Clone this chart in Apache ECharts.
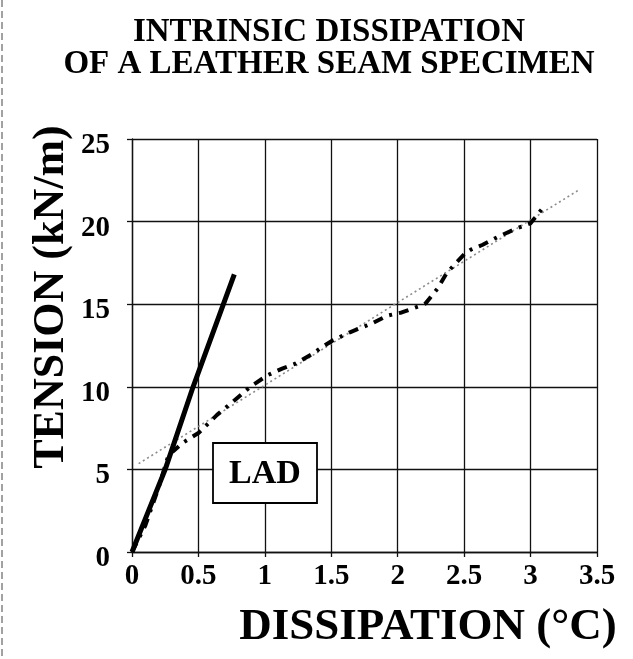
<!DOCTYPE html>
<html>
<head>
<meta charset="utf-8">
<script src="https://cdn.jsdelivr.net/npm/echarts@6/dist/echarts.min.js"></script>
<style>
  html, body { margin: 0; padding: 0; background: #fff; }
  #chart1 { width: 633px; height: 659px; }
</style>
</head>
<body>
<div id="chart1"></div>
<script>
// straight line (solid, thick)
const linearX = [0, 0.25, 0.46, 0.77]
const linearY = [0, 5, 10, 16.8]
// measured values (thick dash-dot)
const measX = [0, 0.1, 0.2, 0.28, 0.31, 0.38, 0.5, 0.64, 0.76, 0.89, 1.02, 1.13, 1.23, 1.36, 1.43, 1.51, 1.64, 1.81, 1.92, 2.03, 2.17, 2.21, 2.30, 2.37, 2.51, 2.55, 2.64, 2.76, 2.90, 3.0, 3.11]
const measY = [0, 1.6, 3.9, 6.0, 6.1, 6.6, 7.2, 8.3, 9.1, 10.0, 10.7, 11.1, 11.4, 12.0, 12.4, 12.8, 13.3, 13.85, 14.3, 14.5, 14.9, 15.05, 15.95, 16.9, 18.1, 18.3, 18.6, 19.1, 19.6, 19.9, 21.0]
// fitted trend (thin dotted)
const fitX = [0.05, 3.36]
const fitY = [5.35, 21.9]
// axis ticks
const xTicks = [0, 0.5, 1, 1.5, 2, 2.5, 3, 3.5]
const yTicks = [0, 5, 10, 15, 20, 25]

const serifBold = 'bold {s}px "Liberation Serif", "DejaVu Serif", serif'
const font = (s) => serifBold.replace('{s}', s)

function pairs (xs, ys) {
    return xs.map((x, i) => [x, ys[i]])
}

const chart1 = echarts.init(document.getElementById('chart1'))
let option = {
    animation: false,
    backgroundColor: '#fff',
    grid: {
        left: 132,
        right: 36,
        top: 139,
        bottom: 107
    },
    xAxis: {
        type: 'value',
        min: xTicks[0],
        max: xTicks[xTicks.length - 1],
        interval: 0.5,
        axisLine: { show: true, lineStyle: { color: '#111', width: 1.3 } },
        axisTick: { show: true, length: 5, lineStyle: { color: '#111', width: 1.3 } },
        axisLabel: {
            color: '#000',
            fontFamily: '"Liberation Serif", serif',
            fontWeight: 'bold',
            fontSize: 29,
            margin: 10
        },
        splitLine: { show: true, lineStyle: { color: '#111', width: 1.3 } }
    },
    yAxis: {
        type: 'value',
        min: yTicks[0],
        max: yTicks[yTicks.length - 1],
        interval: 5,
        axisLine: { show: true, lineStyle: { color: '#111', width: 1.3 } },
        axisTick: { show: true, length: 5, lineStyle: { color: '#111', width: 1.3 } },
        axisLabel: {
            color: '#000',
            fontFamily: '"Liberation Serif", serif',
            fontWeight: 'bold',
            fontSize: 29,
            margin: 22,
            verticalAlign: 'top',
            lineHeight: 13
        },
        splitLine: { show: true, lineStyle: { color: '#111', width: 1.3 } }
    },
    series: [
        {
            name: 'trend',
            type: 'line',
            data: pairs(fitX, fitY),
            symbol: 'none',
            lineStyle: { color: '#8a8a8a', width: 1.6, type: [2, 3] },
            z: 3
        },
        {
            name: 'linear',
            type: 'line',
            data: pairs(linearX, linearY),
            symbol: 'none',
            lineStyle: { color: '#000', width: 5 },
            z: 4
        },
        {
            name: 'measured',
            type: 'line',
            data: pairs(measX, measY),
            symbol: 'none',
            lineStyle: { color: '#000', width: 4, type: [10, 7, 3, 7] },
            z: 5
        }
    ],
    graphic: [
        // scan edge on the left
        {
            type: 'line',
            shape: { x1: 2, y1: 0, x2: 2, y2: 659 },
            style: { stroke: '#444', lineWidth: 1, lineDash: [7, 4] }
        },
        {
            type: 'text',
            x: 329,
            y: 16,
            style: {
                text: 'INTRINSIC DISSIPATION\nOF A LEATHER SEAM SPECIMEN',
                font: font(33),
                lineHeight: 32,
                fill: '#000',
                textAlign: 'center',
                textVerticalAlign: 'top'
            }
        },
        {
            type: 'text',
            x: 52,
            y: 297,
            rotation: Math.PI / 2,
            style: {
                text: 'TENSION (kN/m)',
                font: font(44),
                fill: '#000',
                textAlign: 'center',
                textVerticalAlign: 'middle'
            }
        },
        {
            type: 'text',
            x: 428,
            y: 627,
            style: {
                text: 'DISSIPATION (°C)',
                font: font(45),
                fill: '#000',
                textAlign: 'center',
                textVerticalAlign: 'middle'
            }
        },
        {
            type: 'rect',
            shape: { x: 213, y: 443, width: 104, height: 60 },
            style: { fill: '#fff', stroke: '#000', lineWidth: 1.8 },
            z: 10
        },
        {
            type: 'text',
            x: 265,
            y: 474,
            style: {
                text: 'LAD',
                font: font(34),
                fill: '#000',
                textAlign: 'center',
                textVerticalAlign: 'middle'
            },
            z: 11
        }
    ]
}
chart1.setOption(option)
</script>
</body>
</html>
